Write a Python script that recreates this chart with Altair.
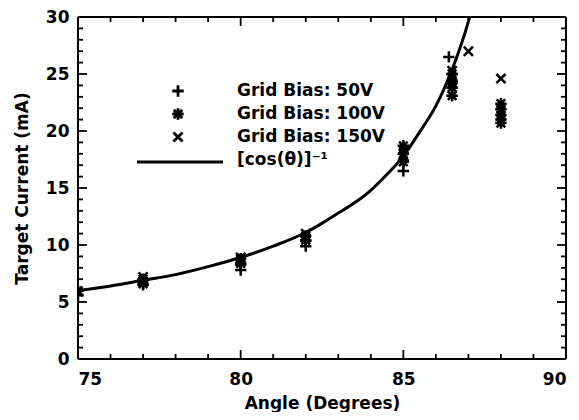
import altair as alt
import pandas as pd

# ---- data ----
bias50_angle = [75, 77, 77, 80, 80, 82, 82, 85, 85, 86.4, 86.5, 86.5]
bias50_current = [5.6, 6.5, 6.9, 7.8, 8.3, 9.9, 10.4, 16.5, 17.4, 26.5, 25.0, 24.2]
bias100_angle = [75, 77, 77, 80, 80, 82, 82, 85, 85, 85, 86.5, 86.5, 86.5, 86.5, 88, 88, 88, 88, 88]
bias100_current = [6.0, 7.0, 6.6, 8.8, 8.4, 10.8, 10.4, 18.7, 18.0, 17.3, 25.0, 24.4, 23.8, 23.1,
                   22.4, 21.9, 21.4, 21.0, 20.7]
bias150_angle = [75, 77, 77, 80, 80, 82, 82, 85, 85, 86.5, 86.5, 87.0, 88]
bias150_current = [5.9, 7.2, 6.8, 8.6, 8.9, 10.6, 11.0, 18.3, 17.8, 25.3, 24.2, 27.0, 24.6]

curve_angle = [75, 76, 77, 78, 79, 80, 81, 82, 82.5, 83, 83.5, 84, 84.5, 85, 85.5, 86, 86.5, 87, 87.2]
curve_current = [6.0, 6.4, 6.9, 7.4, 8.1, 8.9, 9.9, 11.1, 11.9, 12.8, 13.7, 14.8, 16.2, 17.8,
                 19.9, 22.2, 25.4, 29.6, 31.7]

series_names = ["Grid Bias: 50V", "Grid Bias: 100V", "Grid Bias: 150V"]
curve_name = "[cos(θ)]⁻¹"

x_major = [75, 80, 85, 90]
x_minor = [76, 77, 78, 79, 81, 82, 83, 84, 86, 87, 88, 89]
y_major = [0, 5, 10, 15, 20, 25, 30]
y_minor = [v for v in range(0, 31) if v % 5 != 0]

# ---- layout / style ----
W, H = 488, 342
FONT = "DejaVu Sans"
PLUS = "M-1,0L1,0M0,-1L0,1"
STAR = "M-1,0L1,0M0,-1L0,1M-0.75,-0.75L0.75,0.75M-0.75,0.75L0.75,-0.75"
XSYM = "M-0.8,-0.8L0.8,0.8M-0.8,0.8L0.8,-0.8"
shape_range = [PLUS, STAR, XSYM]

rows = []
for name, a, c in zip(series_names,
                      [bias50_angle, bias100_angle, bias150_angle],
                      [bias50_current, bias100_current, bias150_current]):
    for ai, ci in zip(a, c):
        rows.append({"series": name, "angle": ai, "current": ci})
pts = pd.DataFrame(rows)
curve = pd.DataFrame({"angle": curve_angle, "current": curve_current})

xscale = alt.Scale(domain=[75, 90], nice=False, zero=False)
yscale = alt.Scale(domain=[0, 30], nice=False, zero=True)
shape_scale = alt.Scale(domain=series_names, range=shape_range)

xaxis = alt.Axis(values=x_major, title="Angle (Degrees)", grid=False,
                 domain=False, ticks=False, labelPadding=12, format="d", titlePadding=8)
yaxis = alt.Axis(values=y_major, title="Target Current (mA)", grid=False,
                 domain=False, ticks=False, labelPadding=9, format="d", titlePadding=14)

points = alt.Chart(pts).mark_point(filled=False, color="black", strokeWidth=2.5,
                                   size=130, opacity=1, clip=True).encode(
    x=alt.X("angle:Q", scale=xscale, axis=xaxis, title="Angle (Degrees)"),
    y=alt.Y("current:Q", scale=yscale, axis=yaxis, title="Target Current (mA)"),
    shape=alt.Shape("series:N", scale=shape_scale, legend=None),
)

line = alt.Chart(curve).mark_line(color="black", strokeWidth=3, interpolate="monotone",
                                  clip=True).encode(
    x=alt.X("angle:Q", scale=xscale, axis=xaxis, title="Angle (Degrees)"),
    y=alt.Y("current:Q", scale=yscale, axis=yaxis, title="Target Current (mA)"),
)


def xticks(vals, length):
    d = pd.DataFrame({"angle": vals})
    enc_x = alt.X("angle:Q", scale=xscale, axis=xaxis, title="Angle (Degrees)")
    bot = alt.Chart(d).mark_rule(color="black", strokeWidth=1.8).encode(
        x=enc_x, y=alt.value(H), y2=alt.value(H - length))
    top = alt.Chart(d).mark_rule(color="black", strokeWidth=1.8).encode(
        x=enc_x, y=alt.value(0), y2=alt.value(length))
    return [bot, top]


def yticks(vals, length):
    d = pd.DataFrame({"current": vals})
    enc_y = alt.Y("current:Q", scale=yscale, axis=yaxis, title="Target Current (mA)")
    left = alt.Chart(d).mark_rule(color="black", strokeWidth=1.8).encode(
        y=enc_y, x=alt.value(0), x2=alt.value(length))
    right = alt.Chart(d).mark_rule(color="black", strokeWidth=1.8).encode(
        y=enc_y, x=alt.value(W), x2=alt.value(W - length))
    return [left, right]


ticks = xticks(x_major, 9) + xticks(x_minor, 5) + yticks(y_major, 9) + yticks(y_minor, 5)

# ---- frame ----
one = pd.DataFrame({"k": [0]})
frame = [
    alt.Chart(one).mark_rule(color="black", strokeWidth=2).encode(
        x=alt.value(0), x2=alt.value(W), y=alt.value(0)),
    alt.Chart(one).mark_rule(color="black", strokeWidth=2).encode(
        x=alt.value(0), x2=alt.value(W), y=alt.value(H)),
    alt.Chart(one).mark_rule(color="black", strokeWidth=2).encode(
        y=alt.value(0), y2=alt.value(H), x=alt.value(0)),
    alt.Chart(one).mark_rule(color="black", strokeWidth=2).encode(
        y=alt.value(0), y2=alt.value(H), x=alt.value(W)),
]

# ---- legend (inside the plot) ----
legend_layers = []
for i, name in enumerate(series_names):
    d = pd.DataFrame({"series": [name], "label": [name]})
    ypix = 74 + i * 23
    legend_layers.append(alt.Chart(d).mark_point(
        filled=False, color="black", strokeWidth=2.8, size=130, opacity=1).encode(
        x=alt.value(100), y=alt.value(ypix),
        shape=alt.Shape("series:N", scale=shape_scale, legend=None)))
    legend_layers.append(alt.Chart(d).mark_text(
        align="left", baseline="middle", font=FONT, fontSize=17, fontWeight="bold",
        color="black").encode(x=alt.value(159), y=alt.value(ypix), text="label:N"))
dcurve = pd.DataFrame({"label": [curve_name]})
legend_layers.append(alt.Chart(dcurve).mark_rule(color="black", strokeWidth=3).encode(
    x=alt.value(59), x2=alt.value(145), y=alt.value(145)))
legend_layers.append(alt.Chart(dcurve).mark_text(
    align="left", baseline="middle", font=FONT, fontSize=17, fontWeight="bold",
    color="black").encode(x=alt.value(159), y=alt.value(143), text="label:N"))

chart = alt.layer(points, line, *ticks, *frame, *legend_layers).properties(
    width=W, height=H,
    autosize=alt.AutoSizeParams(type="none"),
    padding={"left": 70, "top": 9, "right": 5, "bottom": 53},
    background="white",
).configure_view(stroke=None).configure_axis(
    labelFont=FONT, labelFontSize=17, labelFontWeight="bold", labelColor="black",
    titleFont=FONT, titleFontSize=17, titleFontWeight="bold", titleColor="black",
)

chart.save("out.html", embed_options={"renderer": "svg", "actions": False})
